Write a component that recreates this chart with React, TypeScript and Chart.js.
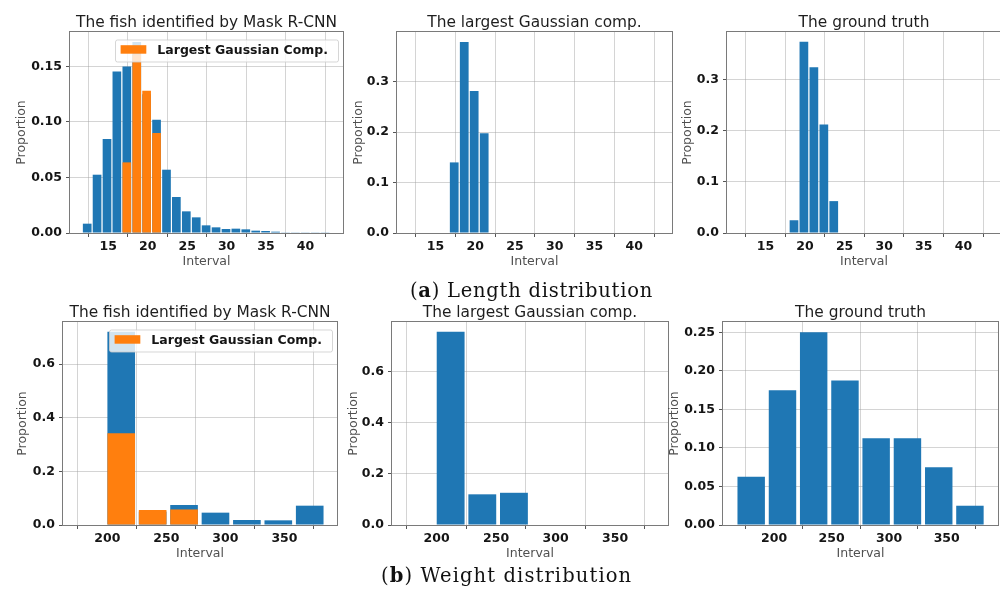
import React, { useEffect, useRef } from "react";
import { Chart, registerables } from "chart.js";

Chart.register(...registerables);

const BLUE = "#1f77b4";
const ORANGE = "#ff7f0e";
const GRID = "rgba(160,160,160,0.45)";
const FRAME = "#7a7a7a";
const TICK_FONT = { family: "DejaVu Sans", size: 12.5, weight: "bold" as const };

// ---------- Length histograms (bin centres, cm) ----------
const lengthBinCenters = [
  12.33, 13.58, 14.84, 16.09, 17.35, 18.61, 19.86, 21.12, 22.38, 23.63, 24.89, 26.15, 27.4,
  28.66, 29.92, 31.17, 32.43, 33.69, 34.94, 36.2, 37.46, 38.71, 39.97, 41.23, 42.48,
];
const maskLengthProportion = [
  0.0084, 0.0525, 0.0846, 0.1455, 0.15, 0.172, 0.125, 0.102, 0.057, 0.0324, 0.0195, 0.0141,
  0.0069, 0.0051, 0.0036, 0.0039, 0.0033, 0.0021, 0.0018, 0.0012, 0.0006, 0.0003, 0.0003,
  0.0006, 0.0003,
];
const gaussLengthBins = [17.35, 18.61, 19.86, 21.12];
const gaussInMaskLength = [0.0636, 0.161, 0.128, 0.09];
const gaussLengthProportion = [0.14, 0.379, 0.2815, 0.198];
const truthLengthBins = [18.61, 19.86, 21.12, 22.38, 23.63];
const truthLengthProportion = [0.025, 0.375, 0.325, 0.2125, 0.0625];

// ---------- Weight histograms (bin centres, g) ----------
const weightBinCenters = [211.8, 238.4, 265.0, 291.6, 318.2, 344.8, 371.4];
const maskWeightProportion = [0.72, 0.05, 0.0745, 0.046, 0.0186, 0.0174, 0.072];
const gaussInMaskWeightBins = [211.8, 238.4, 265.0];
const gaussInMaskWeight = [0.3416, 0.056, 0.058];
const gaussWeightProportion = [0.756, 0.12, 0.126];
const truthWeightBinCenters = [180.1, 207.3, 234.4, 261.6, 288.7, 315.9, 343.1, 370.2];
const truthWeightProportion = [0.0625, 0.175, 0.25, 0.1875, 0.1125, 0.1125, 0.075, 0.025];

// ---------- Tick values ----------
const lengthTicks = [15, 20, 25, 30, 35, 40];
const weightTicks = [200, 250, 300, 350];
const yTicksLenMask = [0, 0.05, 0.1, 0.15];
const yTicksLenOther = [0, 0.1, 0.2, 0.3];
const yTicksWeight = [0, 0.2, 0.4, 0.6];
const yTicksWeightTruth = [0, 0.05, 0.1, 0.15, 0.2, 0.25];

const TITLE_MASK = "The fish identified by Mask R-CNN";
const TITLE_GAUSS = "The largest Gaussian comp.";
const TITLE_TRUTH = "The ground truth";
const LEGEND_LABEL = "Largest Gaussian Comp.";

type Series = { bins: number[]; values: number[]; color: string; order: number };
type PanelCfg = {
  title: string;
  box: { l: number; t: number; r: number; b: number };
  xMin: number;
  xMax: number;
  xTicks: number[];
  yMax: number;
  yTicks: number[];
  yDec: number;
  yLabelOffset: number;
  legend: boolean;
  series: Series[];
};

const panels: PanelCfg[] = [
  {
    title: TITLE_MASK,
    box: { l: 70, t: 32, r: 343, b: 233 },
    xMin: 10.15, xMax: 44.75, xTicks: lengthTicks,
    yMax: 0.181, yTicks: yTicksLenMask, yDec: 2, yLabelOffset: 48.5, legend: true,
    series: [
      { bins: gaussLengthBins, values: gaussInMaskLength, color: ORANGE, order: 0 },
      { bins: lengthBinCenters, values: maskLengthProportion, color: BLUE, order: 1 },
    ],
  },
  {
    title: TITLE_GAUSS,
    box: { l: 397, t: 32, r: 672, b: 233 },
    xMin: 10.15, xMax: 44.75, xTicks: lengthTicks,
    yMax: 0.3986, yTicks: yTicksLenOther, yDec: 1, yLabelOffset: 38.5, legend: false,
    series: [{ bins: gaussLengthBins, values: gaussLengthProportion, color: BLUE, order: 0 }],
  },
  {
    title: TITLE_TRUTH,
    box: { l: 727, t: 32, r: 1001, b: 233 },
    xMin: 10.15, xMax: 44.75, xTicks: lengthTicks,
    yMax: 0.394, yTicks: yTicksLenOther, yDec: 1, yLabelOffset: 39.5, legend: false,
    series: [{ bins: truthLengthBins, values: truthLengthProportion, color: BLUE, order: 0 }],
  },
  {
    title: TITLE_MASK,
    box: { l: 63, t: 322, r: 337, b: 525 },
    xMin: 162.5, xMax: 394.5, xTicks: weightTicks,
    yMax: 0.7566, yTicks: yTicksWeight, yDec: 1, yLabelOffset: 40.5, legend: true,
    series: [
      { bins: gaussInMaskWeightBins, values: gaussInMaskWeight, color: ORANGE, order: 0 },
      { bins: weightBinCenters, values: maskWeightProportion, color: BLUE, order: 1 },
    ],
  },
  {
    title: TITLE_GAUSS,
    box: { l: 392, t: 322, r: 668, b: 525 },
    xMin: 162.5, xMax: 394.5, xTicks: weightTicks,
    yMax: 0.794, yTicks: yTicksWeight, yDec: 1, yLabelOffset: 38.5, legend: false,
    series: [{ bins: gaussInMaskWeightBins, values: gaussWeightProportion, color: BLUE, order: 0 }],
  },
  {
    title: TITLE_TRUTH,
    box: { l: 723, t: 322, r: 998, b: 525 },
    xMin: 155.6, xMax: 394.6, xTicks: weightTicks,
    yMax: 0.2634, yTicks: yTicksWeightTruth, yDec: 2, yLabelOffset: 48, legend: false,
    series: [{ bins: truthWeightBinCenters, values: truthWeightProportion, color: BLUE, order: 0 }],
  },
];

const PAD_L = 70;
const PAD_T = 40;
const PAD_R = 10;
const PAD_B = 40;

function Panel({ cfg }: { cfg: PanelCfg }) {
  const ref = useRef<HTMLCanvasElement | null>(null);
  const w = cfg.box.r - cfg.box.l;
  const h = cfg.box.b - cfg.box.t;
  const cw = w + PAD_L + PAD_R;
  const ch = h + PAD_T + PAD_B;

  useEffect(() => {
    if (!ref.current) return;
    const decor = {
      id: "decor",
      afterDraw(chart: any) {
        const { ctx, chartArea: a } = chart;
        ctx.save();
        // frame
        ctx.strokeStyle = FRAME;
        ctx.lineWidth = 1;
        ctx.strokeRect(a.left - 0.5, a.top - 0.5, a.right - a.left + 1, a.bottom - a.top + 1);
        const cx = (a.left + a.right) / 2;
        // title
        ctx.fillStyle = "#1e1e1e";
        ctx.font = '15.4px "DejaVu Sans"';
        ctx.textAlign = "center";
        ctx.textBaseline = "alphabetic";
        ctx.fillText(cfg.title, cx, a.top - 5.5);
        // x label
        ctx.fillStyle = "#505050";
        ctx.font = '12.5px "DejaVu Sans"';
        ctx.textBaseline = "middle";
        ctx.fillText("Interval", cx, a.bottom + 28.5);
        // y label
        ctx.save();
        ctx.translate(a.left - cfg.yLabelOffset, (a.top + a.bottom) / 2);
        ctx.rotate(-Math.PI / 2);
        ctx.fillText("Proportion", 0, 0);
        ctx.restore();
        // legend
        if (cfg.legend) {
          ctx.font = 'bold 12.5px "DejaVu Sans"';
          const tw = ctx.measureText(LEGEND_LABEL).width;
          const lw = tw + 5.6 + 25.7 + 11 + 10;
          const lh = 22;
          const right = a.right - 5;
          const left = right - lw;
          const top = a.top + 7.5;
          ctx.beginPath();
          if ((ctx as any).roundRect) (ctx as any).roundRect(left + 0.5, top + 0.5, lw, lh, 2);
          else ctx.rect(left + 0.5, top + 0.5, lw, lh);
          ctx.fillStyle = "rgba(255,255,255,0.8)";
          ctx.fill();
          ctx.strokeStyle = "rgba(204,204,204,0.8)";
          ctx.stroke();
          ctx.fillStyle = ORANGE;
          ctx.fillRect(left + 5.6, top + 5.7, 25.7, 8.5);
          ctx.fillStyle = "#151515";
          ctx.textAlign = "left";
          ctx.textBaseline = "middle";
          ctx.fillText(LEGEND_LABEL, left + 5.6 + 25.7 + 11, top + lh / 2);
        }
        ctx.restore();
      },
    };

    const chart = new Chart(ref.current, {
      type: "bar",
      data: {
        datasets: cfg.series.map((s) => ({
          data: s.bins.map((x, i) => ({ x, y: s.values[i] })),
          backgroundColor: s.color,
          borderWidth: 0,
          grouped: false,
          order: s.order,
          barPercentage: 0.88,
          categoryPercentage: 1,
        })) as any,
      },
      options: {
        responsive: false,
        animation: false,
        devicePixelRatio: 1,
        layout: { padding: { left: 0, top: PAD_T, right: PAD_R, bottom: 0 } },
        plugins: {
          legend: { display: false },
          title: { display: false },
          tooltip: { enabled: false },
        },
        scales: {
          x: {
            type: "linear",
            min: cfg.xMin,
            max: cfg.xMax,
            offset: false,
            z: 1,
            border: { display: false },
            grid: { color: GRID, lineWidth: 1, drawTicks: true, tickLength: 4, tickColor: "#555" },
            ticks: {
              font: TICK_FONT,
              color: "#151515",
              padding: 2,
              maxRotation: 0,
              autoSkip: false,
              callback: (v: any) => String(v),
            },
            afterBuildTicks: (s: any) => {
              s.ticks = cfg.xTicks.map((v) => ({ value: v }));
            },
            afterFit: (s: any) => {
              s.height = PAD_B;
            },
          } as any,
          y: {
            type: "linear",
            min: 0,
            max: cfg.yMax,
            z: 1,
            border: { display: false },
            grid: { color: GRID, lineWidth: 1, drawTicks: true, tickLength: 4, tickColor: "#555" },
            ticks: {
              font: TICK_FONT,
              color: "#151515",
              padding: 4,
              autoSkip: false,
              callback: (v: any) => Number(v).toFixed(cfg.yDec),
            },
            afterBuildTicks: (s: any) => {
              s.ticks = cfg.yTicks.map((v) => ({ value: v }));
            },
            afterFit: (s: any) => {
              s.width = PAD_L;
            },
          } as any,
        },
      },
      plugins: [decor],
    });
    return () => chart.destroy();
  }, [cfg]);

  return (
    <canvas
      ref={ref}
      width={cw}
      height={ch}
      style={{
        position: "absolute",
        left: cfg.box.l - PAD_L,
        top: cfg.box.t - PAD_T,
        width: cw,
        height: ch,
      }}
    />
  );
}

const captionStyle: React.CSSProperties = {
  position: "absolute",
  font: '19.5px "DejaVu Serif"',
  lineHeight: "22px",
  letterSpacing: "0.75px",
  whiteSpace: "nowrap",
  color: "#111",
};

export default function App() {
  return (
    <div
      style={{
        position: "absolute",
        left: 0,
        top: 0,
        width: 1000,
        height: 597,
        overflow: "hidden",
        background: "#ffffff",
      }}
    >
      {panels.map((p, i) => (
        <Panel key={i} cfg={p} />
      ))}
      <div style={{ ...captionStyle, left: 410, top: 279.5 }}>
        (<b>a</b>) Length distribution
      </div>
      <div style={{ ...captionStyle, left: 381, top: 565.2, letterSpacing: "1.1px" }}>
        (<b>b</b>) Weight distribution
      </div>
    </div>
  );
}
